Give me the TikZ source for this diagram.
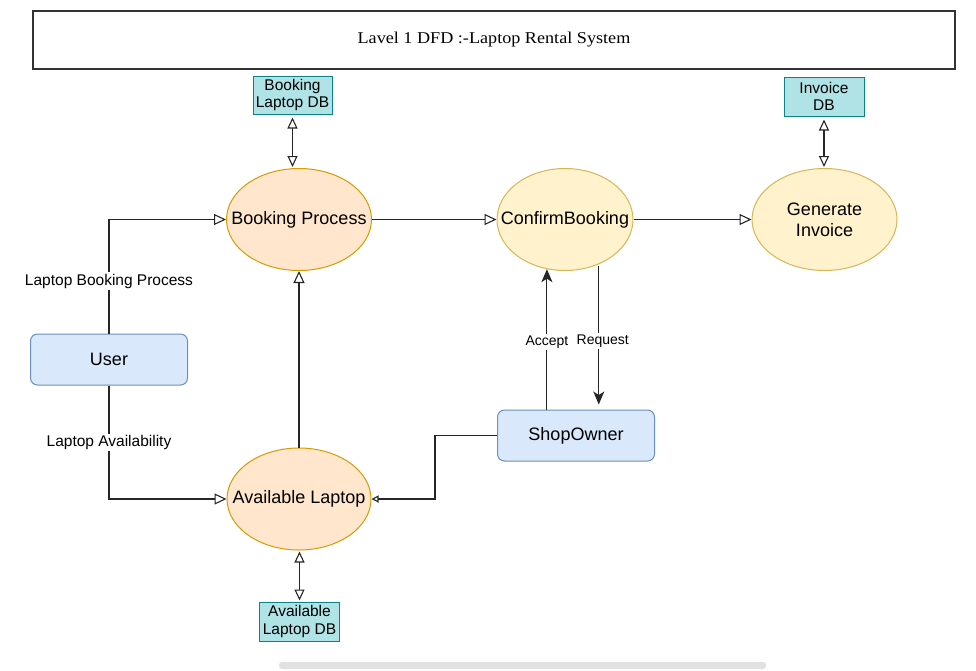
\documentclass[tikz,border=0pt]{standalone}
\usepackage{fontspec}
\setmainfont{Liberation Sans}
\newfontfamily\titlefont[FakeStretch=1.1]{Liberation Serif}
\usepackage{tikz}
\usetikzlibrary{positioning, shapes, arrows.meta}
\usepackage{xcolor}
\definecolor{procfillA}{HTML}{FFE6CC}
\definecolor{proclineA}{HTML}{D79B00}
\definecolor{procfillB}{HTML}{FFF2CC}
\definecolor{proclineB}{HTML}{D6B656}
\definecolor{entfill}{HTML}{DAE8FC}
\definecolor{entline}{HTML}{6C8EBF}
\definecolor{storefill}{HTML}{B0E3E6}
\definecolor{storeline}{HTML}{0E8088}
\definecolor{scrollgray}{HTML}{E1E1E1}
% text that takes no width, so the ellipse keeps its own size
\newcommand{\proctext}[1]{\makebox[0pt][c]{#1}}

\begin{document}
\begin{tikzpicture}[x=1pt, y=-1pt,
    flow/.style={line width=1.1pt, draw=black!85},
    openarrow/.style={flow, -{Triangle[open, length=12pt, width=11pt]}},
    smallopen/.style={flow, -{Triangle[open, length=7pt, width=7pt]}},
    bothopen/.style={flow, {Triangle[open, length=11pt, width=10pt]}-{Triangle[open, length=11pt, width=10pt]}, shorten <=3pt, shorten >=1pt},
    solidarrow/.style={flow, -{Stealth[length=13pt, width=11pt, inset=3.5pt]}},
    procA/.style={ellipse, draw=proclineA, fill=procfillA, line width=1pt, inner sep=0pt,
        minimum width=145pt, minimum height=102pt, align=center, font=\fontsize{18}{21}\selectfont},
    procB/.style={procA, draw=proclineB, fill=procfillB},
    entity/.style={draw=entline, fill=entfill, line width=1pt, rounded corners=7pt,
        minimum width=157pt, minimum height=51pt, font=\fontsize{18}{21}\selectfont},
    store/.style={draw=storeline, fill=storefill, line width=1pt, inner sep=0pt,
        minimum width=80pt, minimum height=39pt, align=center, font=\fontsize{15.5}{17.5}\selectfont},
    flowlabel/.style={fill=white, inner sep=1.5pt, font=\fontsize{15.5}{17}\selectfont},
    smalllabel/.style={fill=white, inner sep=1.5pt, font=\fontsize{14}{16}\selectfont}]

    \useasboundingbox (0,0) rectangle (976,670);

    % Title
    \node[draw=black!80, line width=1.6pt, minimum width=922pt, minimum height=58pt,
        font=\titlefont\fontsize{16.5}{19}\selectfont] (title) at (494,40) {Lavel 1 DFD :-Laptop Rental System};

    % Processes
    \node[procA] (bp) at (299,219.5) {\proctext{Booking Process}};
    \node[procB, minimum width=136pt] (cb) at (565,219.5) {\proctext{ConfirmBooking}};
    \node[procB] (gi) at (824.5,219.5) {\proctext{Generate}\\\proctext{Invoice}};
    \node[procA, minimum width=144pt] (al) at (299,499) {\proctext{Available Laptop}};

    % External entities
    \node[entity] (user) at (109,359.5) {User};
    \node[entity] (so) at (576,435.5) {ShopOwner};

    % Data stores
    \node[store, minimum width=79pt, minimum height=38pt] (bdb) at (292.5,95) {Booking\\Laptop DB};
    \node[store] (idb) at (824,96.5) {Invoice\\DB};
    \node[store] (adb) at (299.5,621.5) {Available\\Laptop DB};

    % Flows from the user
    \draw[openarrow] (user.north) |- node[flowlabel, pos=0.23] {Laptop Booking Process} (bp.west);
    \draw[openarrow] (user.south) |- node[flowlabel, pos=0.25] {Laptop Availability} (al.west);

    % Flows between processes
    \draw[openarrow] (al.north) -- (bp.south);
    \draw[openarrow] (bp.east) -- (cb.west);
    \draw[openarrow] (cb.east) -- (gi.west);

    % Shop owner
    \draw[solidarrow] (cb.250 |- so.north) -- node[smalllabel, pos=0.48] {Accept} (cb.250);
    \draw[solidarrow, shorten <=2pt, shorten >=5pt] (cb.-53) -- node[smalllabel, xshift=4pt, pos=0.53] {Request} (cb.-53 |- so.north);
    \draw[smallopen] (so.west) -- ++(-62,0) |- (al.east);

    % Data stores
    \draw[bothopen] (bdb.south) -- (bdb.south |- bp.north);
    \draw[bothopen] (idb.south) -- (idb.south |- gi.north);
    \draw[bothopen, shorten <=1pt, shorten >=1pt] (adb.north |- al.south) -- (adb.north);

    % Scroll bar
    \fill[scrollgray, rounded corners=3pt] (279,662) rectangle (766,669);

\end{tikzpicture}
\end{document}
